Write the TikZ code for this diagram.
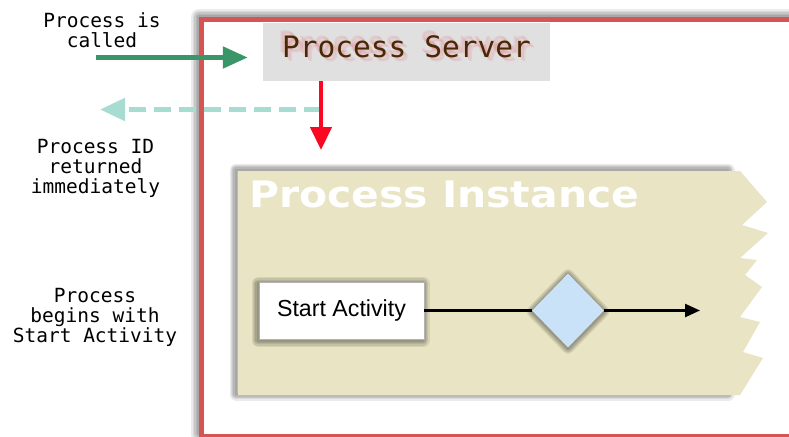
\documentclass[tikz,border=0pt]{standalone}
\usepackage{fontspec}
\usepackage{graphicx}
\usetikzlibrary{arrows.meta,shapes.geometric}
\newfontfamily\monofont{DejaVu Sans Mono}
\newfontfamily\headfont{DejaVu Sans}
\newfontfamily\boxfont{Liberation Sans}
\definecolor{framered}{RGB}{214,84,84}
\definecolor{servergray}{RGB}{224,224,224}
\definecolor{servertext}{RGB}{72,40,5}
\definecolor{smearred}{RGB}{225,70,80}
\definecolor{callgreen}{RGB}{58,150,105}
\definecolor{returnteal}{RGB}{166,220,210}
\definecolor{dropred}{RGB}{250,8,34}
\definecolor{instancebeige}{RGB}{233,228,196}
\definecolor{gateblue}{RGB}{202,226,248}
\tikzset{
  haze/.style 2 args={
    preaction={draw=black, draw opacity=.08, line join=round, line width=5*#1, transform canvas={shift={#2}}},
    preaction={draw=black, draw opacity=.08, line join=round, line width=4*#1, transform canvas={shift={#2}}},
    preaction={draw=black, draw opacity=.08, line join=round, line width=3*#1, transform canvas={shift={#2}}},
    preaction={draw=black, draw opacity=.08, line join=round, line width=2*#1, transform canvas={shift={#2}}},
    preaction={draw=black, draw opacity=.08, line join=round, line width=#1, transform canvas={shift={#2}}}},
  note/.style={font=\monofont\fontsize{19.5}{20}\selectfont, align=center, inner sep=0pt},
  serverbox/.style={fill=servergray, minimum width=287pt, minimum height=58pt, inner sep=0pt},
  servername/.style={font=\monofont\fontsize{29.5}{30}\selectfont, text=servertext, inner sep=0pt},
  titletext/.style={font=\headfont\bfseries\fontsize{36.5}{40}\selectfont, text=white, inner sep=0pt},
  activity/.style={draw=gray!60, line width=0.6pt, fill=white, minimum width=165pt, minimum height=57pt,
    inner sep=0pt, font=\boxfont\fontsize{23.2}{27}\selectfont, haze={2.6pt}{(-1pt,-1.5pt)}},
  gate/.style={diamond, fill=gateblue, minimum width=72pt, minimum height=74pt,
    inner sep=0pt, haze={2.2pt}{(0pt,-1pt)}},
  flow/.style={line width=2.5pt, black},
  callarrow/.style={line width=5pt, callgreen, -{Triangle[length=25pt, width=21pt]}},
  returnarrow/.style={line width=5pt, returnteal, dash pattern=on 17pt off 8pt, -{Triangle[length=25pt, width=22pt]}},
  droparrow/.style={line width=4.5pt, dropred, -{Triangle[length=23pt, width=21pt]}}
}
\begin{document}
\begin{tikzpicture}[x=1pt, y=-1pt]
  \path[use as bounding box, fill=white] (0,0) rectangle (789,436);
  \draw[framered, line width=5pt, fill=white, haze={3.2pt}{(-2pt,3pt)}]
    (201,20) rectangle (830,436.5);
  \node[serverbox] (server) at (406.5,52) {};
  \foreach \d in {-3,-2,-1,1,2,3}
    \node[servername, text=smearred, opacity=0.1, anchor=base, xshift=1.5*\d pt, yshift=-1.5*\d pt]
      at ([yshift=-5pt]server.center) {Process Server};
  \node[servername, anchor=base] (name) at ([yshift=-5pt]server.center) {Process Server};
  \path[haze={2.6pt}{(-2pt,1pt)}] (238,171) rectangle (730,395);
  \fill[instancebeige]
    (238,171) -- (740,171) -- (767,202) -- (742,225) -- (768,233) -- (740,258) -- (757,260)
    -- (745,275) -- (762,287) -- (740,317) -- (760,322) -- (743,352) -- (763,358)
    -- (740,395) -- (238,395) -- cycle;
  \node[titletext, anchor=base west] (title) at (249,207) {\scalebox{1.12}[1]{Process Instance}};
  \node[activity] (start) at (341.5,310.5) {Start Activity};
  \node[gate] (gate) at (568,310.5) {};
  \coordinate (flowend) at (700,310.5);
  \draw[flow] (start) -- (gate);
  \draw[flow, -{Triangle[length=15pt, width=13pt]}] (gate) -- (flowend);
  \coordinate (caller) at (96,57.5);
  \coordinate (drop) at (321,150);
  \coordinate (back) at (100,109.5);
  \draw[callarrow, shorten >=15pt] (caller) -- (server.west |- caller);
  \draw[returnarrow] (drop |- back) -- (back);
  \draw[droparrow] (server.south -| drop) -- (drop);
  \node[note] (calledlabel) at (102,30) {Process is\\called};
  \node[note] (returnlabel) at (95.5,168) {Process ID\\returned\\immediately};
  \node[note] (beginlabel) at (95,317) {Process\\begins with\\Start Activity};
\end{tikzpicture}
\end{document}
